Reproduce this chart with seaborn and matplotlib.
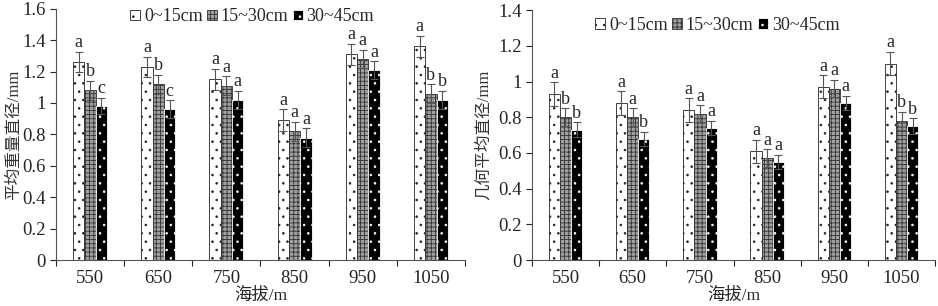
import matplotlib
matplotlib.use("Agg")
import matplotlib.pyplot as plt
from matplotlib.ticker import FuncFormatter, FixedLocator
import seaborn as sns
import numpy as np
import pandas as pd

# altitude classes and soil depth layers
altitudes = ['550', '650', '750', '850', '950', '1050']
depths = ['0~15cm', '15~30cm', '30~45cm']

# mean weight diameter (MWD), mm
mwd = {
    '0~15cm':  [1.26, 1.23, 1.15, 0.89, 1.31, 1.36],
    '15~30cm': [1.08, 1.12, 1.11, 0.82, 1.28, 1.06],
    '30~45cm': [0.98, 0.96, 1.02, 0.78, 1.21, 1.02],
}
mwd_err = {
    '0~15cm':  [0.065, 0.065, 0.068, 0.07, 0.068, 0.068],
    '15~30cm': [0.06, 0.06, 0.06, 0.06, 0.06, 0.058],
    '30~45cm': [0.052, 0.057, 0.057, 0.058, 0.056, 0.058],
}
mwd_letters = {
    '0~15cm':  ['a', 'a', 'a', 'a', 'a', 'a'],
    '15~30cm': ['b', 'b', 'a', 'a', 'a', 'b'],
    '30~45cm': ['c', 'c', 'a', 'a', 'a', 'b'],
}

# geometric mean diameter (GMD), mm
gmd = {
    '0~15cm':  [0.93, 0.88, 0.84, 0.61, 0.97, 1.10],
    '15~30cm': [0.80, 0.80, 0.82, 0.57, 0.96, 0.78],
    '30~45cm': [0.73, 0.68, 0.74, 0.55, 0.88, 0.75],
}
gmd_err = {
    '0~15cm':  [0.065, 0.066, 0.065, 0.065, 0.065, 0.066],
    '15~30cm': [0.05, 0.05, 0.047, 0.051, 0.049, 0.05],
    '30~45cm': [0.041, 0.04, 0.039, 0.041, 0.041, 0.043],
}
gmd_letters = {
    '0~15cm':  ['a', 'a', 'a', 'a', 'a', 'a'],
    '15~30cm': ['b', 'a', 'a', 'a', 'a', 'b'],
    '30~45cm': ['b', 'b', 'a', 'a', 'a', 'b'],
}

sns.set_style('ticks')
plt.rcParams['font.family'] = ['Liberation Serif', 'Noto Sans CJK SC']
plt.rcParams['hatch.linewidth'] = 0.6

styles = [
    dict(facecolor='white', edgecolor='#222222', hatch='..'),
    dict(facecolor='#a0a0a0', edgecolor='#333333', hatch='++++'),
    dict(facecolor='black', edgecolor='white', hatch='..'),
]


def panel(ax, values, errs, letters, ylabel, ymax, leg_anchor, ypad):
    df = pd.DataFrame([
        {'alt': a, 'depth': d, 'val': values[d][i]}
        for d in depths for i, a in enumerate(altitudes)
    ])
    sns.barplot(data=df, x='alt', y='val', hue='depth', order=altitudes,
                hue_order=depths, width=0.5, gap=0, errorbar=None, ax=ax,
                legend=False)
    for cont, st, d in zip(ax.containers, styles, depths):
        for k, bar in enumerate(cont):
            bar.set_facecolor(st['facecolor'])
            bar.set_edgecolor(st['edgecolor'])
            bar.set_hatch(st['hatch'])
            bar.set_linewidth(0.6)
            x = bar.get_x() + bar.get_width() / 2
            h = bar.get_height()
            e = errs[d][k]
            ax.errorbar(x, h, yerr=e, fmt='none', ecolor='#555555',
                        elinewidth=0.8, capsize=3, capthick=0.8)
            ax.text(x, h + e + ymax * 0.002, letters[d][k], ha='center',
                    va='bottom', fontsize=13)
    ax.set_ylim(0, ymax)
    ax.set_xlim(-0.5, len(altitudes) - 0.5)
    ax.yaxis.set_major_locator(FixedLocator(np.arange(0, ymax + 0.01, 0.2)))
    ax.yaxis.set_major_formatter(FuncFormatter(lambda v, p: '%g' % round(v, 1)))
    ax.xaxis.set_minor_locator(FixedLocator(np.arange(-0.5, len(altitudes), 1)))
    ax.tick_params(axis='x', which='major', length=0, labelsize=13.5, pad=7)
    ax.tick_params(axis='x', which='minor', length=4, width=0.8, direction='out')
    ax.tick_params(axis='y', length=4, width=0.8, labelsize=13.5, direction='out')
    ax.set_xlabel('海拔/m', fontsize=12.5, labelpad=1)
    ax.set_ylabel(ylabel, fontsize=12, labelpad=ypad, color='#333333')
    for s in ['left', 'bottom']:
        ax.spines[s].set_linewidth(0.8)
        ax.spines[s].set_color('#555555')
    sns.despine(ax=ax)
    handles = [c[0] for c in ax.containers]
    ax.legend(handles, depths, ncol=3, loc='upper center',
              bbox_to_anchor=leg_anchor, frameon=False, fontsize=13,
              handlelength=0.55, handleheight=0.55, handletextpad=0.2,
              columnspacing=0.25, borderaxespad=0)


fig = plt.figure(figsize=(9.38, 3.06), dpi=100)
ax1 = fig.add_axes([0.0597, 0.150, 0.436, 0.8216])
ax2 = fig.add_axes([0.567, 0.150, 0.430, 0.8170])

panel(ax1, mwd, mwd_err, mwd_letters, '平均重量直径/mm', 1.6, (0.48, 1.03), 0)
panel(ax2, gmd, gmd_err, gmd_letters, '几何平均直径/mm', 1.4, (0.46, 1.0), 4)

fig.savefig('out.png', dpi=100)
